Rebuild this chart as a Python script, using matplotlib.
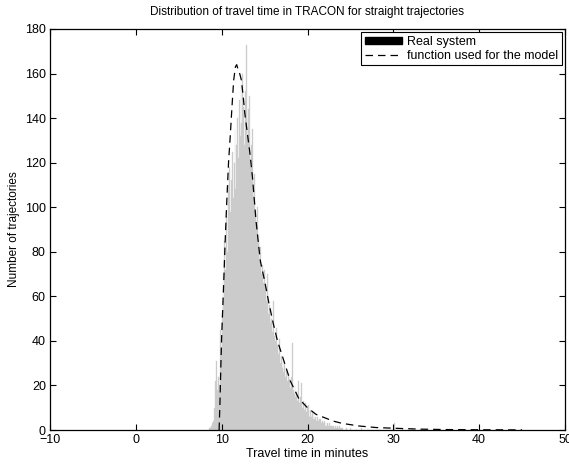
import matplotlib
matplotlib.use("Agg")
import matplotlib.pyplot as plt
from matplotlib.patches import Patch
from matplotlib.lines import Line2D
import numpy as np

plt.rcParams['font.family'] = ['Liberation Sans', 'DejaVu Sans']

# Histogram: bin width 0.1 min, starting at 8.5 min
bin_start = 8.5
bin_width = 0.1
counts = [
    1, 1, 2, 2, 3,
    4, 10, 22, 31, 14, 18, 24, 20, 45, 36,
    52, 70, 58, 85, 72, 96, 80, 110, 92, 118,
    98, 112, 125, 104, 120, 135, 108, 128, 140, 122,
    148, 132, 155, 138, 160, 145, 128, 152, 173, 140,
    132, 144, 150, 118, 128, 135, 112, 105, 115, 98,
    92, 100, 85, 88, 76, 82, 70, 74, 66, 72,
    60, 64, 58, 70, 52, 56, 48, 55, 50, 44,
    58, 42, 40, 46, 36, 38, 34, 41, 30, 33,
    28, 31, 26, 30, 24, 27, 22, 25, 20, 23,
    19, 24, 39, 18, 16, 20, 15, 17, 13, 22,
    12, 15, 11, 21, 10, 13, 9, 12, 8, 10,
    7, 11, 6, 9, 6, 8, 5, 7, 5, 6,
    4, 6, 4, 5, 3, 5, 3, 4, 3, 4,
    2, 3, 2, 3, 2, 3, 2, 2, 1, 2,
    2, 1, 2, 1, 2, 1, 1, 2, 1, 1,
    1,
]
# Sparse tail bars
tail_x = [24.5, 25.0, 25.6, 26.2, 27.0, 28.4, 30.1, 31.0, 32.2, 33.1]
tail_y = [1, 1, 1, 0.8, 0.8, 0.6, 3, 0.6, 0.5, 0.5]

# Fitted model curve
model_x = [9.7, 9.8, 9.9, 10.0, 10.2, 10.4, 10.6, 10.8, 11.0, 11.2, 11.4, 11.6,
           11.75, 11.9, 12.1, 12.3, 12.5, 12.7, 13.0, 13.3, 13.6, 14.0, 14.5,
           15.0, 15.5, 16.0, 16.5, 17.0, 18.0, 19.0, 20.0, 21.0, 22.0, 23.0,
           24.0, 26.0, 28.0, 30.0, 33.0, 36.0, 40.0, 45.0]
model_y = [0, 12, 28, 42, 62, 84, 103, 120, 132, 145, 157, 163,
           164, 162, 160, 157, 150, 142, 133, 124, 113, 94, 76,
           67, 57, 48, 40, 34, 22, 14, 10, 7, 5.5, 4,
           3, 1.8, 1.1, 0.8, 0.4, 0.2, 0.1, 0.05]

title = "Distribution of travel time in TRACON for straight trajectories"
xlabel = "Travel time in minutes"
ylabel = "Number of trajectories"
xticks = [-10, 0, 10, 20, 30, 40, 50]
yticks = [0, 20, 40, 60, 80, 100, 120, 140, 160, 180]

GRAY = '#cbcbcb'
DASH = (0, (6, 4))

fig = plt.figure(figsize=(5.69, 4.65), dpi=100)
ax = fig.add_axes([50/569, 35/465, 515/569, 401/465])

bin_x = bin_start + bin_width * np.arange(len(counts))
ax.bar(bin_x, counts, width=bin_width, align='edge', color=GRAY,
       edgecolor=GRAY, linewidth=0.25)
ax.bar(tail_x, tail_y, width=bin_width, align='edge', color=GRAY,
       edgecolor=GRAY, linewidth=0.25)
ax.plot(model_x, model_y, color='black', linestyle=DASH, linewidth=0.9)

ax.set_xlim(-10, 50)
ax.set_ylim(0, 180)
ax.set_xticks(xticks)
ax.set_yticks(yticks)
ax.tick_params(direction='in', top=True, right=True, length=4, width=0.8,
               labelsize=9, pad=3)
for s in ax.spines.values():
    s.set_linewidth(0.9)

ax.set_title(title, fontsize=8.5, pad=10)
ax.set_xlabel(xlabel, fontsize=9, labelpad=1)
ax.set_ylabel(ylabel, fontsize=8.5)
ax.yaxis.set_label_coords(-0.058, 0.5)

handles = [Patch(facecolor='black', edgecolor='black'),
           Line2D([0], [0], color='black', linestyle=DASH, linewidth=0.9)]
leg = ax.legend(handles, ['Real system', 'function used for the model'],
                loc='upper right', fontsize=9, fancybox=False, framealpha=1,
                edgecolor='black', borderaxespad=0.25, handlelength=3.0,
                handleheight=0.55, handletextpad=0.4, borderpad=0.3,
                labelspacing=0.15)
leg.get_frame().set_linewidth(0.8)

fig.savefig('out.png', dpi=100)
